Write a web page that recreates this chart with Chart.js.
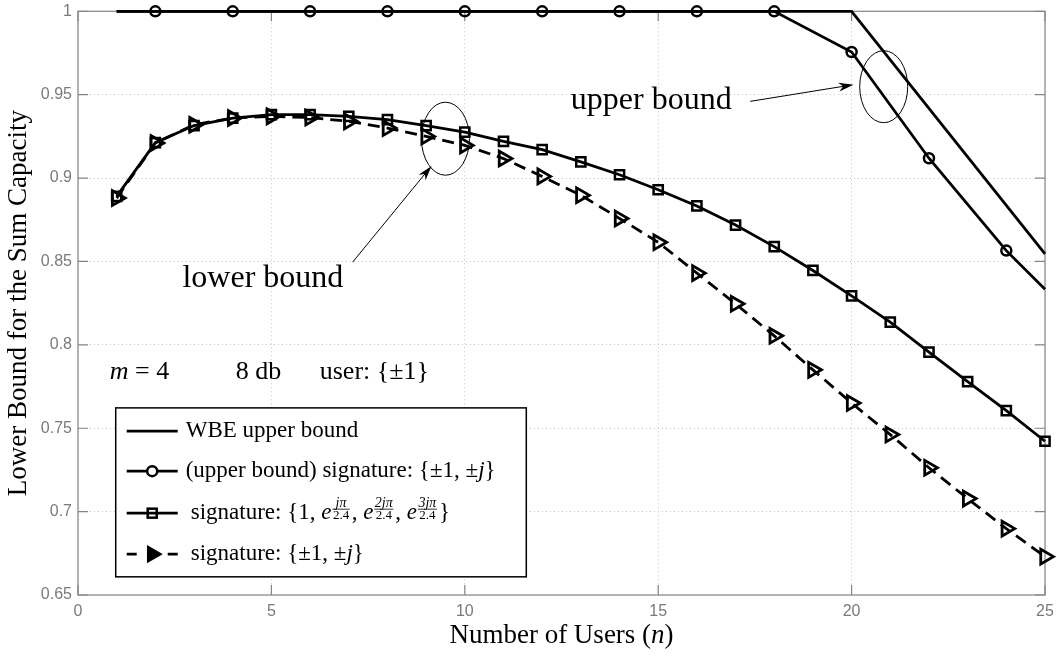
<!DOCTYPE html>
<html>
<head>
<meta charset="utf-8">
<script src="https://cdn.jsdelivr.net/npm/chart.js@4/dist/chart.umd.min.js"></script>
<style>
  body { margin: 0; background: #fff; }
  #wrap { width: 1057px; height: 656px; }
</style>
</head>
<body>
<div id="wrap"><canvas id="capacityChart"></canvas></div>
<script>
// values
const users = [1, 2, 3, 4, 5, 6, 7, 8, 9, 10, 11, 12, 13, 14, 15, 16, 17, 18, 19, 20, 21, 22, 23, 24, 25];
const wbeUsers = [1, 20, 25];
const wbeBound = [1, 1, 0.8546];
const upperUsers = [1, 2, 4, 6, 8, 10, 12, 14, 16, 18, 20, 22, 24, 25];
const upperBound = [1, 1, 1, 1, 1, 1, 1, 1, 1, 1, 0.9756, 0.9119, 0.8565, 0.8333];
const rotatedSig = [0.889, 0.9212, 0.9315, 0.936, 0.938, 0.938, 0.937, 0.935, 0.9315, 0.9275,
                    0.922, 0.917, 0.9097, 0.902, 0.893, 0.8833, 0.8718, 0.8589, 0.8446, 0.8294,
                    0.8136, 0.7956, 0.778, 0.7606, 0.7422];
const qpskSig = [0.888, 0.921, 0.932, 0.936, 0.937, 0.9363, 0.934, 0.930, 0.925, 0.9196,
                 0.9117, 0.901, 0.8897, 0.8758, 0.8615, 0.843, 0.8246, 0.8054, 0.785, 0.7651,
                 0.7462, 0.7263, 0.7078, 0.6898, 0.673];
const xTicks = [0, 5, 10, 15, 20, 25];
const yTicks = [0.65, 0.7, 0.75, 0.8, 0.85, 0.9, 0.95, 1];

const SERIF = "'Liberation Serif', 'DejaVu Serif', serif";
const SANS = "'Liberation Sans', Arial, sans-serif";

function pairs(xs, ys) {
    return xs.map(function(x, i) { return { x: x, y: ys[i] }; });
}

// draws a run of text pieces, some italic, some small fractions
function drawRich(ctx, x, y, runs) {
    let cx = x;
    ctx.textBaseline = 'alphabetic';
    runs.forEach(function(r) {
        if (r.frac) {
            ctx.font = r.font;
            const wn = ctx.measureText(r.frac[0]).width;
            ctx.font = r.font2;
            const wd = ctx.measureText(r.frac[1]).width;
            const w = Math.max(wn, wd);
            const by = y - 10;
            ctx.textAlign = 'center';
            ctx.font = r.font;
            ctx.fillText(r.frac[0], cx + 1.5 + w / 2, by - 2.5);
            ctx.font = r.font2;
            ctx.fillText(r.frac[1], cx + 1.5 + w / 2, by + 10);
            ctx.beginPath();
            ctx.lineWidth = 0.8;
            ctx.moveTo(cx + 1, by);
            ctx.lineTo(cx + 2 + w, by);
            ctx.stroke();
            cx += w + 4;
        } else {
            ctx.font = r.font;
            ctx.textAlign = 'left';
            ctx.fillText(r.t, cx, y);
            cx += ctx.measureText(r.t).width;
        }
    });
    return cx;
}

function arrow(ctx, x1, y1, x2, y2) {
    const a = Math.atan2(y2 - y1, x2 - x1);
    const len = 15, half = 4.5;
    ctx.beginPath();
    ctx.lineWidth = 1;
    ctx.moveTo(x1, y1);
    ctx.lineTo(x2 - Math.cos(a) * 6, y2 - Math.sin(a) * 6);
    ctx.stroke();
    ctx.beginPath();
    ctx.moveTo(x2, y2);
    ctx.lineTo(x2 - Math.cos(a) * len - Math.sin(a) * half, y2 - Math.sin(a) * len + Math.cos(a) * half);
    ctx.lineTo(x2 - Math.cos(a) * len * 0.7, y2 - Math.sin(a) * len * 0.7);
    ctx.lineTo(x2 - Math.cos(a) * len + Math.sin(a) * half, y2 - Math.sin(a) * len - Math.cos(a) * half);
    ctx.closePath();
    ctx.fill();
}

// matlab style frame with inward ticks, annotations and the legend box
const framePlugin = {
    id: 'frame',
    beforeDatasetsDraw: function(chart) {
        const ctx = chart.ctx;
        const a = chart.chartArea;
        const sx = chart.scales.x, sy = chart.scales.y;
        ctx.save();
        ctx.strokeStyle = '#858585';
        ctx.lineWidth = 1.2;
        ctx.strokeRect(a.left, a.top, a.right - a.left, a.bottom - a.top);
        ctx.beginPath();
        xTicks.forEach(function(t) {
            const px = sx.getPixelForValue(t);
            ctx.moveTo(px, a.bottom); ctx.lineTo(px, a.bottom - 10);
            ctx.moveTo(px, a.top); ctx.lineTo(px, a.top + 10);
        });
        yTicks.forEach(function(t) {
            const py = sy.getPixelForValue(t);
            ctx.moveTo(a.left, py); ctx.lineTo(a.left + 10, py);
            ctx.moveTo(a.right, py); ctx.lineTo(a.right - 10, py);
        });
        ctx.stroke();
        ctx.restore();
    },
    afterDatasetsDraw: function(chart) {
        const ctx = chart.ctx;
        const a = chart.chartArea;
        const sx = chart.scales.x, sy = chart.scales.y;
        const X = function(v) { return sx.getPixelForValue(v); };
        const Y = function(v) { return sy.getPixelForValue(v); };
        ctx.save();
        ctx.fillStyle = '#000';
        ctx.strokeStyle = '#000';

        // ellipses marking the bounds
        ctx.lineWidth = 1;
        ctx.beginPath();
        ctx.ellipse(X(20.83), Y(0.9548), 24, 36, 0, 0, Math.PI * 2);
        ctx.stroke();
        ctx.beginPath();
        ctx.ellipse(X(9.5), Y(0.9236), 24, 36.5, 0, 0, Math.PI * 2);
        ctx.stroke();

        // labels and arrows
        ctx.font = '32px ' + SERIF;
        ctx.textAlign = 'left';
        ctx.fillText('upper bound', X(12.74), Y(0.9412));
        ctx.fillText('lower bound', X(2.70), Y(0.8347));
        arrow(ctx, X(17.38), Y(0.946), X(20.05), Y(0.956));
        arrow(ctx, X(7.10), Y(0.8496), X(9.14), Y(0.9073));

        const it26 = 'italic 26px ' + SERIF, rm26 = '26px ' + SERIF;
        drawRich(ctx, X(0.82), Y(0.7793), [{ t: 'm', font: it26 }, { t: ' = 4', font: rm26 }]);
        drawRich(ctx, X(4.08), Y(0.7793), [{ t: '8 db', font: rm26 }]);
        drawRich(ctx, X(6.25), Y(0.7793), [{ t: 'user: {\u00b11}', font: rm26 }]);

        // legend box
        const bx = X(0.975), by = Y(0.7622);
        const bw = X(11.59) - bx, bh = Y(0.6609) - by;
        ctx.fillStyle = '#fff';
        ctx.fillRect(bx, by, bw, bh);
        ctx.lineWidth = 1.5;
        ctx.strokeRect(bx, by, bw, bh);
        ctx.fillStyle = '#000';

        const rows = [23.3, 63.3, 105.3, 146.3];
        const lx1 = bx + 11, lx2 = bx + 62, lxm = (lx1 + lx2) / 2;
        ctx.lineWidth = 2.8;
        rows.forEach(function(r, i) {
            const ry = by + r;
            ctx.beginPath();
            if (i < 3) {
                ctx.moveTo(lx1, ry); ctx.lineTo(lx2, ry);
            } else {
                ctx.moveTo(lx1, ry); ctx.lineTo(lx1 + 10, ry);
                ctx.moveTo(lx2 - 10, ry); ctx.lineTo(lx2, ry);
            }
            ctx.stroke();
        });
        ctx.lineWidth = 2.5;
        ctx.beginPath();
        ctx.arc(lxm, by + rows[1], 5, 0, Math.PI * 2);
        ctx.fillStyle = '#fff';
        ctx.fill();
        ctx.stroke();
        ctx.fillStyle = '#000';
        ctx.strokeRect(lxm - 4.5, by + rows[2] - 4.5, 9, 9);
        ctx.beginPath();
        ctx.moveTo(lxm + 8, by + rows[3]);
        ctx.lineTo(lxm - 4, by + rows[3] - 7);
        ctx.lineTo(lxm - 4, by + rows[3] + 7);
        ctx.closePath();
        ctx.fill();
        ctx.stroke();

        const rm = '23px ' + SERIF, it = 'italic 23px ' + SERIF;
        const sIt = 'italic 14px ' + SERIF, sRm = '13px ' + SERIF;
        const tx = bx + 70;
        drawRich(ctx, tx, by + rows[0] + 6, [{ t: 'WBE upper bound', font: rm }]);
        drawRich(ctx, tx, by + rows[1] + 6, [
            { t: '(upper bound) signature: {\u00b11, \u00b1', font: rm }, { t: 'j', font: it }, { t: '}', font: rm }]);
        drawRich(ctx, tx + 5, by + rows[2] + 6, [
            { t: 'signature: {1, ', font: rm }, { t: 'e', font: it },
            { frac: ['j\u03c0', '2.4'], font: sIt, font2: sRm }, { t: ', ', font: rm }, { t: 'e', font: it },
            { frac: ['2j\u03c0', '2.4'], font: sIt, font2: sRm }, { t: ', ', font: rm }, { t: 'e', font: it },
            { frac: ['3j\u03c0', '2.4'], font: sIt, font2: sRm }, { t: '}', font: rm }]);
        drawRich(ctx, tx + 5, by + rows[3] + 6, [
            { t: 'signature: {\u00b11, \u00b1', font: rm }, { t: 'j', font: it }, { t: '}', font: rm }]);

        // x axis title with italic n
        const rm27 = '27px ' + SERIF, it27 = 'italic 27px ' + SERIF;
        ctx.font = rm27;
        const p1 = 'Number of Users (';
        const w1 = ctx.measureText(p1).width;
        const w3 = ctx.measureText(')').width;
        ctx.font = it27;
        const w2 = ctx.measureText('n').width;
        const cxm = (a.left + a.right) / 2 - (w1 + w2 + w3) / 2;
        drawRich(ctx, cxm, 643, [{ t: p1, font: rm27 }, { t: 'n', font: it27 }, { t: ')', font: rm27 }]);
        ctx.restore();
    }
};

document.addEventListener('DOMContentLoaded', function() {
    const ctx = document.getElementById('capacityChart').getContext('2d');

    const datasets = [
        {
            label: 'WBE upper bound',
            data: pairs(wbeUsers, wbeBound),
            borderColor: '#000',
            borderWidth: 2.8,
            pointRadius: 0
        },
        {
            label: '(upper bound) signature: {±1, ±j}',
            data: pairs(upperUsers, upperBound),
            borderColor: '#000',
            borderWidth: 2.8,
            pointStyle: 'circle',
            pointRadius: function(c) {
                return (c.dataIndex === 0 || c.dataIndex === upperUsers.length - 1) ? 0 : 5;
            },
            pointBorderWidth: 2.5,
            pointBorderColor: '#000',
            pointBackgroundColor: 'rgba(0,0,0,0)'
        },
        {
            label: 'signature: {1, e^(jπ/2.4), e^(2jπ/2.4), e^(3jπ/2.4)}',
            data: pairs(users, rotatedSig),
            borderColor: '#000',
            borderWidth: 2.8,
            pointStyle: 'rect',
            pointRadius: 6.5,
            pointBorderWidth: 2.5,
            pointBorderColor: '#000',
            pointBackgroundColor: 'rgba(0,0,0,0)'
        },
        {
            label: 'signature: {±1, ±j}',
            data: pairs(users, qpskSig),
            borderColor: '#000',
            borderWidth: 2.8,
            borderDash: [12, 7],
            pointStyle: 'triangle',
            pointRotation: 90,
            pointRadius: 8.5,
            pointBorderWidth: 2.8,
            pointBorderColor: '#000',
            pointBackgroundColor: 'rgba(0,0,0,0)'
        }
    ];

    new Chart(ctx, {
        type: 'line',
        data: { datasets: datasets },
        options: {
            responsive: true,
            maintainAspectRatio: false,
            animation: false,
            layout: { padding: { top: 3, right: 12, left: 0, bottom: 0 } },
            elements: { line: { tension: 0 } },
            datasets: { line: { clip: false } },
            plugins: { legend: { display: false }, tooltip: { enabled: false } },
            scales: {
                x: {
                    type: 'linear',
                    min: 0,
                    max: 25,
                    afterBuildTicks: function(s) { s.ticks = xTicks.map(function(v) { return { value: v }; }); },
                    afterFit: function(s) { s.height = 61; s.paddingLeft = 0; s.paddingRight = 0; },
                    grid: { color: '#c4c4c4', drawTicks: false },
                    border: { display: false, dash: [1, 3] },
                    ticks: { padding: 7, color: '#7a7a7a', font: { family: SANS, size: 16 }, maxRotation: 0 }
                },
                y: {
                    type: 'linear',
                    min: 0.65,
                    max: 1,
                    afterBuildTicks: function(s) { s.ticks = yTicks.map(function(v) { return { value: v }; }); },
                    afterFit: function(s) { s.width = 78; s.paddingTop = 0; s.paddingBottom = 0; },
                    grid: { color: '#c4c4c4', drawTicks: false },
                    border: { display: false, dash: [1, 3] },
                    ticks: {
                        padding: 6, color: '#7a7a7a', font: { family: SANS, size: 16 },
                        callback: function(v) { return String(+v.toFixed(2)); }
                    },
                    title: {
                        display: true,
                        text: 'Lower Bound for the Sum Capacity',
                        color: '#000',
                        font: { family: SERIF, size: 27 },
                        padding: { top: 3, bottom: 0 }
                    }
                }
            }
        },
        plugins: [framePlugin]
    });
});
</script>
</body>
</html>
